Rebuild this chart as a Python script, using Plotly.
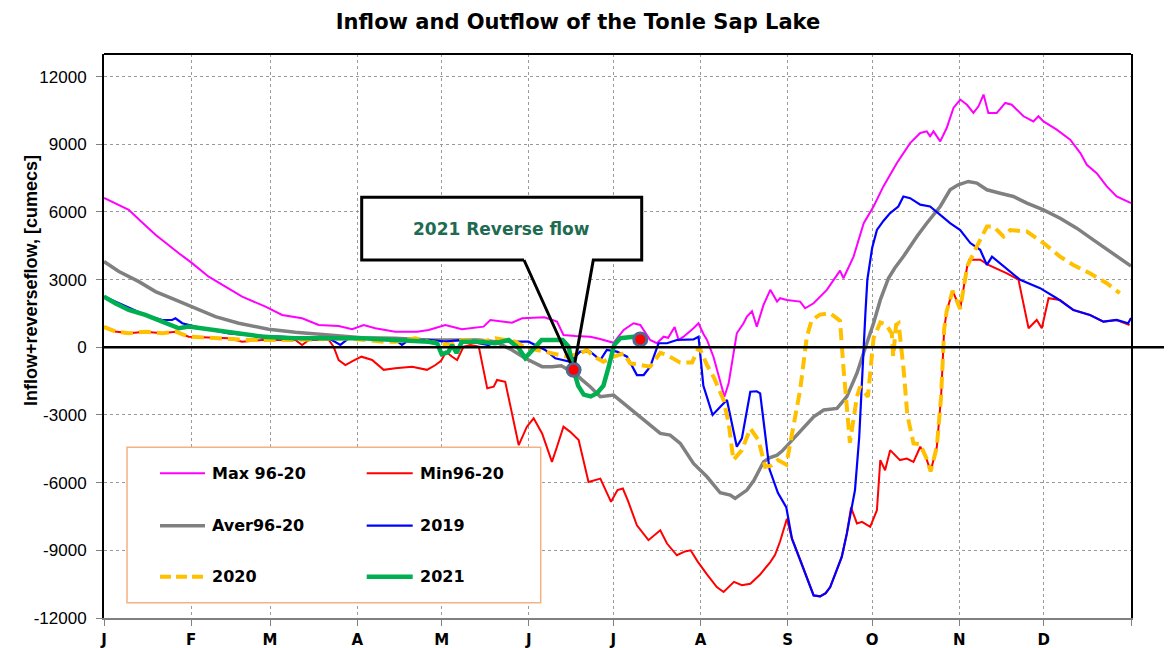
import math
import plotly.graph_objects as go

# ---------------- data (day of year, cumecs) ----------------
month_ticks = [0, 31, 59, 90, 120, 151, 181, 212, 243, 273, 304, 334, 365]
month_labels = ["J", "F", "M", "A", "M", "J", "J", "A", "S", "O", "N", "D", ""]

max_days = [0, 8.8, 13, 18.3, 26.6, 31.3, 37.2, 43.2, 49.1, 57.4, 63.3, 70.4, 76.3, 83.4, 88.2, 92.3, 96.4,
            103.5, 111.3, 115.4, 119.5, 121.3, 127.2, 134.9, 137.3, 145, 148.6, 156.5, 161, 163.3, 167.5,
            172.8, 176, 181.1, 184.7, 188.2, 190.6, 194.1, 196.5, 198.9, 200.5, 202.8, 204.2, 206, 209.5,
            211.3, 213, 214.3, 216.6, 219, 220.5, 222, 223.5, 224.9, 227.3, 228.5, 230.3, 232, 234.4, 236.8,
            239.2, 240.3, 242.7, 247.4, 249.2, 252.2, 256.9, 261.6, 262.8, 266.4, 270, 273.5, 277, 281.8,
            286.5, 290.1, 292.4, 293.6, 294.8, 297.2, 299.5, 301.9, 304.3, 306.7, 309, 310.8, 312.6, 314.3,
            317.3, 320.3, 322.6, 326.8, 330.3, 332.1, 333.9, 338.6, 343.4, 347, 349.3, 352.8, 356.4, 359.9, 365]
max_vals = [6620, 6090, 5600, 4985, 4170, 3730, 3130, 2690, 2245, 1800, 1434, 1287, 990, 945, 800, 990, 843,
            692, 692, 768, 915, 990, 800, 915, 1210, 1090, 1287, 1330, 1135, 546, 500,
            470, 380, 200, 768, 1065, 990, 324, 178, 470, 420, 900, 330, 470, 843,
            1065, 600, 324, -417, -1450, -2190, -1600, -340, 620, 1065, 1360, 1600, 915, 1880, 2545,
            2025, 2175, 2100, 2025, 1730, 1950, 2545, 3400, 3060, 4020, 5500, 6240, 7130, 8170,
            9050, 9500, 9570, 9350, 9570, 9125, 9720, 10610, 10980, 10750, 10390, 10680, 11200, 10390,
            10390, 10830, 10750, 10240, 10010, 10240, 10010, 9645, 9200, 8610, 8090, 7720, 7130, 6685, 6390]

min_days = [0, 4, 8.8, 14.7, 20.7, 25.4, 30.1, 38, 44.3, 46.7, 49.1, 56.2, 68, 70.4, 72.8, 79.9, 81.6, 83.4,
            85.8, 88.5, 91.5, 95.3, 99.4, 103.5, 109.5, 114.8, 117.8, 119.8, 121.6, 123.5, 125.5, 127.8,
            130.2, 133.2, 135, 136.2, 138.5, 139.7, 142.6, 145.6, 147.4, 150.3, 152.7, 155.7, 159.2, 161,
            163.3, 165.7, 168.7, 172.2, 176.4, 180.2, 182.5, 184.4, 186.2, 189.4, 193.5, 197.7, 200.1,
            203.6, 206.5, 208.5, 211, 214.3, 217.8, 220.2, 223.9, 226.7, 229.7, 233.2, 236.8, 238.5, 240.3,
            242.7, 244.5, 247.4, 250, 252.2, 254.5, 256.5, 258.1, 260, 262.2, 264, 265.5, 267.6, 269.4,
            272.3, 274.7, 275.9, 277.6, 279.4, 282.9, 285.3, 287.7, 290.1, 292.2, 293.8, 296, 297.5, 298.6,
            299.5, 301.6, 304.3, 306.8, 307.5, 311.4, 314.3, 317, 320.9, 325, 327.4, 328.6, 331.5, 333.3,
            335.7, 339.8, 344.5, 350.4, 355.2, 359.9, 364.5]
min_vals = [900, 700, 620, 690, 620, 690, 470, 420, 400, 324, 248, 324, 324, 102, 324, 324, 27, -564,
            -786, -600, -417, -564, -1000, -932, -860, -1000, -786, -600, -200, -400, -564, 27,
            100, 27, -1150, -1820, -1750, -1450, -1530, -3230, -4340, -3520, -3150, -3820, -5080, -4410,
            -3520, -3750, -4110, -5970, -5820, -6850, -6330, -6260, -6800, -7890, -8550, -8110, -8700,
            -9220, -9050, -9000, -9500, -10070, -10630, -10850, -10400, -10550, -10480, -10070, -9520, -9200, -8600,
            -7600, -8480, -9400, -10300, -11000, -11040, -10900, -10630, -10000, -9290, -8260, -7100, -7810, -7740,
            -7960, -7220, -5000, -5450, -4560, -5000, -4930, -5080, -4410, -4900, -5500, -4410, -2200, 800,
            1600, 2500, 1700, 3600, 3880, 3880, 3650, 3500, 3280, 3000, 1510, 843, 1210, 843,
            2175, 2100, 1655, 1434, 1135, 1210, 990]

aver_days = [0, 5.3, 12.4, 18.3, 25.4, 31.3, 39.6, 47.9, 58.5, 68, 79.9, 91.7, 103.5, 115.4, 133.2, 139.1,
             145, 149.7, 155.7, 159.2, 162.5, 165.1, 166.9, 169.5, 172.8, 176.4, 181.1, 184.7, 189.4, 193,
             197.7, 201.2, 204.8, 209.5, 214.3, 219, 222.6, 224.3, 226.5, 228.5, 231, 234.4, 236.5, 239.2,
             241, 245.5, 249, 252.2, 255.8, 260.5, 264, 267.6, 270.5, 273.5, 275.9, 278.8, 281, 284.1,
             288.9, 292.4, 297.2, 300.7, 303.6, 307.2, 310.2, 313.8, 318.5, 323.2, 328, 333.9, 339.8,
             345.7, 351.6, 357.5, 365]
aver_vals = [3800, 3360, 2910, 2470, 2100, 1800, 1360, 1065, 800, 665, 546, 426, 400, 324, 324, 248,
             -120, -490, -860, -860, -820, -1000, -1080, -1400, -1750, -2190, -2120, -2490, -3000, -3370,
             -3820, -3890, -4260, -5150, -5740, -6450, -6550, -6700, -6500, -6330, -5900, -5080, -4900, -4780,
             -4600, -4000, -3500, -3080, -2780, -2710, -2190, -1150, -44, 1065, 2100, 3060, 3500, 4020,
             4910, 5500, 6240, 6980, 7200, 7350, 7280, 6980, 6830, 6685, 6390, 6090, 5720,
             5280, 4760, 4240, 3600]

y2019_days = [0, 4, 8.8, 14.7, 20.7, 24.2, 25.4, 27.8, 32.5, 38.4, 44.3, 50.3, 62.1, 74, 79.9, 84, 87,
              103.5, 105.9, 108, 115.4, 121.3, 127.2, 136.7, 140, 145, 150.9, 156.8, 160.4, 162.8, 165.7,
              169.2, 172.8, 176.4, 178.7, 182.3, 185.9, 189.4, 191.8, 194.1, 197.1, 200.1, 203.6, 209.5,
              211.3, 213, 216.3, 219.3, 221.4, 224.9, 226.7, 229.7, 232, 233.2, 236.5, 239.5, 242.5, 244.5,
              247.4, 250, 252.2, 254.5, 256.5, 258.1, 260, 262.2, 264, 266, 266.9, 268.4, 269.3, 270, 270.6,
              271.3, 273, 274.7, 277, 279.4, 282.3, 284.1, 286.5, 290.1, 293.6, 297.2, 300.7, 304.3, 307.9,
              311.4, 313.8, 315.6, 319.7, 325.6, 332.7, 338.6, 344.5, 350.4, 355.2, 359.9, 364, 365]
y2019_vals = [2245, 2025, 1730, 1434, 1210, 1210, 1287, 1065, 915, 768, 620, 546, 470, 400, 400, 102, 400,
              324, 102, 300, 324, 248, 324, 102, 300, 248, 248, -120, -490, -564, -640,
              -195, -195, -564, -120, -195, -417, -1230, -1230, -860, 178, 178, 324, 350,
              470, -1700, -3000, -2600, -2340, -4410, -4040, -1970, -1950, -2040, -5400, -6450, -7100, -8480,
              -9400, -10300, -11000, -11040, -10900, -10630, -10000, -9290, -8260, -7000, -6330, -4000, -1500, 0, 1500,
              3000, 4400, 5200, 5600, 5950, 6240, 6685, 6610, 6320, 6240, 5870, 5500, 5200, 4620,
              4320, 3650, 4020, 3580, 2990, 2620, 2175, 1655, 1434, 1135, 1210, 1065, 1300]

y2020_days = [0, 4, 8.8, 14.7, 20.7, 25.4, 30.1, 44.3, 51.4, 68, 85.8, 99.4, 103.5, 110.6, 115.4, 123, 127.2,
              134.9, 139.1, 146.2, 149.1, 153.9, 158.6, 164.6, 169.3, 171.6, 174, 177.5, 181.1, 184.7, 187,
              190.6, 194.1, 197.7, 200.1, 204.8, 209, 211.5, 214.3, 217, 219, 220.2, 222, 223.7, 226.7, 229.7,
              232.6, 235, 237, 239.5, 242.5, 244.5, 247.4, 249.8, 251.5, 254.5, 258.1, 261.6, 262.8, 265.1,
              267.6, 268.7, 271.5, 273.5, 275.9, 278, 280, 280.5, 281.5, 282.4, 284.2, 285.5, 287.7, 290.1,
              292.2, 293.8, 296, 297.5, 298.6, 299.5, 301.6, 304.3, 306.8, 310.2, 313.8, 316.2, 319.7, 322.1,
              328, 333.9, 339.8, 344.5, 350.4, 356.4, 361]
y2020_vals = [900, 700, 620, 692, 620, 692, 470, 400, 324, 324, 400, 248, 248, 400, 248, 102, 324,
              248, 400, 248, 27, -120, -270, -417, -270, -120, -400, -640, -417, -270, -710,
              -786, -860, -250, -340, -680, -680, 27, -786, -1400, -1970, -2340, -3370, -5000, -4560, -3600,
              -4110, -5300, -5250, -5000, -5200, -3800, -1900, 470, 1200, 1450, 1510, 1170, -900, -4230,
              -2190, -1750, -2190, 400, 1100, 1000, 600, -417, 990, 1065, -1000, -3000, -4260, -4300,
              -4900, -5500, -4410, -2200, 800, 1600, 2500, 1700, 3600, 4470, 5350, 5350, 4910, 5200,
              5130, 4620, 4020, 3650, 3280, 2840, 2400]

y2021_days = [0, 4, 8.8, 14.7, 20.7, 26.6, 30.1, 38.4, 44.3, 56.2, 68, 91.7, 103.5, 115.4, 118.4, 120,
              122.3, 123.7, 125.3, 127.2, 133.2, 139.1, 143.8, 147.4, 149.7, 152.1, 155.5, 163, 165.1, 166.9,
              168.5, 170.5, 173, 175.2, 177.5, 179.5, 181.3, 183.5, 188.2, 190.6]
y2021_vals = [2245, 1950, 1655, 1434, 1135, 843, 915, 768, 650, 470, 400, 400, 324, 248, 178, -300,
              -220, 100, -250, 248, 248, 178, 324, -44, -480, -150, 324, 324, 27, -1000,
              -1700, -2100, -2180, -2040, -1700, -800, 100, 400, 470, 400]

marker_days = [166.9, 190.6]
marker_vals = [-1000, 350]

# ---------------- layout geometry ----------------
# The page body adds an 8 px margin, so figure coords = screen coords - OFF.
OFF = 8
W, H = 1172 - OFF, 648 - OFF
PL, PR, PT, PB = 104, 1131, 54, 618          # plot edges in screen pixels
L, R, T, B = PL - OFF, W - (PR - OFF), PT - OFF, H - (PB - OFF)
PW, PH = W - L - R, H - T - B
Y0, Y1 = -12000, 13000


def px(X):   # screen x -> paper
    return (X - PL) / PW


def py(Y):   # screen y -> paper
    return (PB - Y) / PH


def dx(X):   # screen x -> day
    return (X - PL) / PW * 365


def dy(Y):   # screen y -> value
    return Y0 + (PB - Y) / PH * (Y1 - Y0)


def sx(day):  # day -> screen x
    return PL + day / 365 * PW


def sy(val):  # value -> screen y
    return PB - (val - Y0) / (Y1 - Y0) * PH


FONT = "Liberation Sans, Arial, sans-serif"
BFONT = "DejaVu Sans, Liberation Sans, Arial, sans-serif"

series = [
    ("Max 96-20", max_days, max_vals, dict(color="#FF00FF", width=2)),
    ("Min96-20", min_days, min_vals, dict(color="#FF0000", width=2)),
    ("Aver96-20", aver_days, aver_vals, dict(color="#808080", width=3.5)),
    ("2019", y2019_days, y2019_vals, dict(color="#0000FF", width=2.2)),
    ("2020", y2020_days, y2020_vals, dict(color="#FFC000", width=4, dash="12px,6px")),
    ("2021", y2021_days, y2021_vals, dict(color="#00B050", width=4.5)),
]

fig = go.Figure()
for name, xs, ys, ln in series:
    fig.add_trace(go.Scatter(x=xs, y=ys, mode="lines", name=name, line=ln,
                             showlegend=False, hoverinfo="skip"))

fig.add_trace(go.Scatter(x=marker_days, y=marker_vals, mode="markers", showlegend=False,
                         hoverinfo="skip",
                         marker=dict(size=13, color="#FF0000", line=dict(color="#4E6A92", width=3))))

shapes = []
# zero line extending past the plot
shapes.append(dict(type="line", xref="paper", yref="paper", x0=0, x1=px(1170),
                   y0=(0 - Y0) / (Y1 - Y0), y1=(0 - Y0) / (Y1 - Y0),
                   line=dict(color="black", width=2.5), layer="above"))
# top border
shapes.append(dict(type="line", xref="paper", yref="paper", x0=0, x1=1, y0=1, y1=1,
                   line=dict(color="black", width=2), layer="above"))

# callout: white body under the traces, black outline whose pointer stops at the marker edge
bx0, bx1 = dx(361.7), dx(641.7)
by0, by1 = dy(197.3), dy(260)
pb0, pb1 = dx(524), dx(593.3)
tipx, tipy = marker_days[0], marker_vals[0]
fill_path = (f"M {bx0},{by0} L {bx1},{by0} L {bx1},{by1} L {pb1},{by1} L {tipx},{tipy} "
             f"L {pb0},{by1} L {bx0},{by1} Z")
shapes.append(dict(type="path", xref="x", yref="y", path=fill_path, fillcolor="white",
                   line=dict(width=0), layer="between"))


def short_end(base_sx, base_sy, gap=7.5):
    tx, ty = sx(tipx), sy(tipy)
    ddx, ddy = tx - base_sx, ty - base_sy
    n = math.hypot(ddx, ddy)
    return dx(tx - ddx / n * gap), dy(ty - ddy / n * gap)


ea = short_end(524, 260)
eb = short_end(593.3, 260)
outline = (f"M {pb0},{by1} L {bx0},{by1} L {bx0},{by0} L {bx1},{by0} L {bx1},{by1} L {pb1},{by1} "
           f"L {eb[0]},{eb[1]} M {pb0},{by1} L {ea[0]},{ea[1]}")
shapes.append(dict(type="path", xref="x", yref="y", path=outline,
                   line=dict(color="black", width=3), layer="above"))

# legend box
shapes.append(dict(type="rect", xref="paper", yref="paper", x0=px(127), x1=px(540.7),
                   y0=py(602.7), y1=py(447.3), fillcolor="white",
                   line=dict(color="#F4B183", width=1.5), layer="above"))

annotations = []
leg_rows = [473.3, 525.7, 576.7]
leg_cols = [(160, 205, 210), (366.7, 412.7, 417.7)]
for i, (name, xs, ys, ln) in enumerate(series):
    r, c = divmod(i, 2)
    x0, x1, xt = leg_cols[c]
    yy = py(leg_rows[r])
    lnd = dict(color=ln["color"], width=ln["width"])
    if "dash" in ln:
        lnd["dash"] = "11px,5px"
    shapes.append(dict(type="line", xref="paper", yref="paper", x0=px(x0), x1=px(x1),
                       y0=yy, y1=yy, line=lnd, layer="above"))
    annotations.append(dict(xref="paper", yref="paper", x=px(xt), y=yy, xanchor="left",
                            yanchor="middle", showarrow=False, text=f"<b>{name}</b>",
                            font=dict(family=BFONT, size=16, color="black")))

annotations.append(dict(xref="x", yref="y", x=dx(501), y=dy(229.3), showarrow=False,
                        text="<b>2021 Reverse flow</b>",
                        font=dict(family=BFONT, size=17, color="#1E6B52")))

annotations.append(dict(xref="paper", yref="paper", x=px(19), y=py(281), showarrow=False,
                        textangle=-90, text="<b>Inflow+reverseflow, [cumecs]</b>",
                        font=dict(family=FONT, size=18, color="black")))

fig.update_layout(
    template="none",
    width=W, height=H,
    margin=dict(l=L, r=R, t=T, b=B, autoexpand=False),
    paper_bgcolor="white", plot_bgcolor="white",
    showlegend=False,
    title=dict(text="<b>Inflow and Outflow of the Tonle Sap Lake</b>", x=(578 - OFF) / W, xanchor="center",
               y=1 - (22 - OFF) / H, yanchor="middle", yref="container",
               font=dict(family=BFONT, size=21, color="black")),
    shapes=shapes, annotations=annotations,
    xaxis=dict(range=[0, 365], tickmode="array", tickvals=month_ticks,
               ticktext=[f"<b>{t}</b>" if t else "" for t in month_labels],
               automargin=False,
               showgrid=True, gridcolor="#9A9A9A", griddash="dot", gridwidth=1,
               showline=True, linecolor="#808080", linewidth=2,
               ticks="outside", ticklen=6, tickcolor="#808080", tickwidth=1,
               ticklabelstandoff=1,
               zeroline=False, tickfont=dict(family=BFONT, size=15, color="black")),
    yaxis=dict(range=[Y0, Y1], tickmode="array",
               tickvals=[-12000, -9000, -6000, -3000, 0, 3000, 6000, 9000, 12000],
               ticktext=["-12000", "-9000", "-6000", "-3000", "0", "3000", "6000", "9000", "12000"],
               automargin=False,
               showgrid=True, gridcolor="#9A9A9A", griddash="dot", gridwidth=1,
               showline=True, linecolor="black", linewidth=2, mirror=True,
               ticks="outside", ticklen=6, tickcolor="#808080", tickwidth=1,
               ticklabelstandoff=6,
               zeroline=False, tickfont=dict(family=FONT, size=17, color="black")),
)

fig.write_html("out.html")
